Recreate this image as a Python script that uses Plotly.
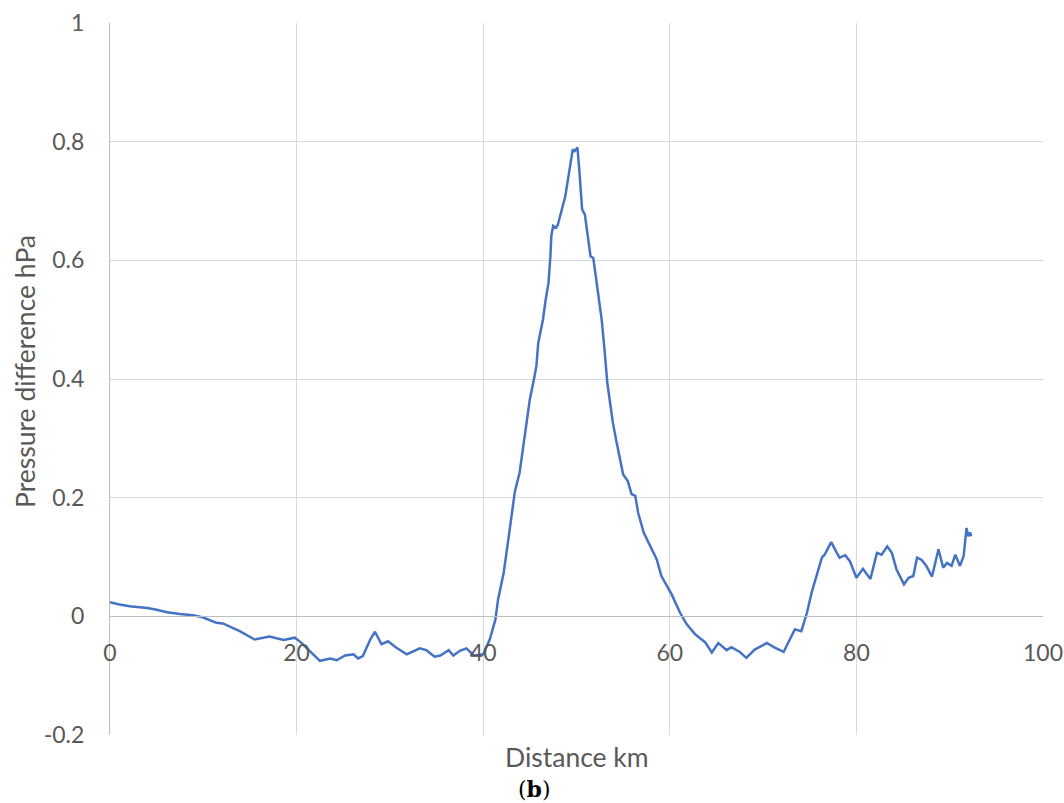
import plotly.graph_objects as go

distance_km = [
    0.0, 1.0, 2.1, 3.0, 4.0, 5.0, 6.1, 7.5, 8.9, 10.0, 11.4, 12.1, 13.0, 13.9, 15.5, 16.4, 17.1, 18.6, 19.8, 20.4,
    21.4, 22.5, 23.6, 24.3, 25.2, 26.1, 26.6, 27.1, 27.9, 28.4, 29.1, 29.8, 30.7, 31.8, 33.2, 33.9, 34.8, 35.4, 36.3, 36.8,
    37.5, 38.2, 39.0, 40.0, 40.7, 41.3, 41.6, 42.2, 42.7, 43.1, 43.4, 43.9, 44.3, 44.6, 45.0, 45.4, 45.7, 45.9, 46.1, 46.4,
    46.7, 47.0, 47.2, 47.3, 47.5, 47.8, 48.0, 48.4, 48.8, 49.0, 49.3, 49.6, 49.8, 50.1, 50.3, 50.6, 50.9, 51.2, 51.5, 51.8,
    52.1, 52.4, 52.7, 53.0, 53.3, 53.6, 53.9, 54.3, 54.6, 55.0, 55.5, 55.9, 56.3, 56.6, 57.2, 58.1, 58.6, 59.1, 59.7, 60.2,
    61.1, 61.8, 62.7, 63.8, 64.5, 65.2, 66.1, 66.6, 67.5, 68.2, 69.1, 70.4, 71.3, 72.2, 72.7, 73.4, 74.1, 74.7, 75.2, 75.7,
    76.3, 76.6, 77.3, 77.9, 78.2, 78.8, 79.3, 80.0, 80.7, 81.5, 82.2, 82.7, 83.3, 83.8, 84.3, 85.1, 85.6, 86.1, 86.5, 87.0,
    87.5, 88.1, 88.8, 89.3, 89.7, 90.2, 90.6, 91.1, 91.5, 91.8, 92.0, 92.2, 92.3,
]
pressure_diff_hpa = [
    0.024, 0.020, 0.017, 0.016, 0.014, 0.011, 0.007, 0.004, 0.002, -0.002, -0.011, -0.012, -0.018, -0.025, -0.039, -0.036, -0.034, -0.040, -0.036, -0.043,
    -0.058, -0.075, -0.071, -0.074, -0.066, -0.064, -0.071, -0.067, -0.039, -0.026, -0.047, -0.042, -0.053, -0.064, -0.054, -0.057, -0.068, -0.066, -0.057, -0.066,
    -0.058, -0.054, -0.066, -0.064, -0.039, -0.006, 0.029, 0.074, 0.130, 0.175, 0.211, 0.242, 0.287, 0.326, 0.366, 0.396, 0.422, 0.461, 0.478, 0.500,
    0.534, 0.562, 0.607, 0.641, 0.658, 0.655, 0.660, 0.686, 0.708, 0.728, 0.759, 0.787, 0.784, 0.790, 0.753, 0.686, 0.677, 0.641, 0.607, 0.604,
    0.568, 0.529, 0.500, 0.450, 0.394, 0.360, 0.326, 0.293, 0.270, 0.239, 0.228, 0.206, 0.203, 0.175, 0.141, 0.111, 0.096, 0.068, 0.051, 0.037,
    0.006, -0.013, -0.030, -0.044, -0.061, -0.045, -0.057, -0.052, -0.060, -0.070, -0.056, -0.045, -0.053, -0.060, -0.044, -0.022, -0.025, 0.006, 0.040, 0.068,
    0.099, 0.104, 0.125, 0.107, 0.099, 0.103, 0.093, 0.065, 0.080, 0.063, 0.107, 0.104, 0.118, 0.107, 0.079, 0.054, 0.065, 0.068, 0.099, 0.095,
    0.085, 0.067, 0.113, 0.082, 0.090, 0.085, 0.104, 0.085, 0.102, 0.149, 0.135, 0.141, 0.135,
]

x_ticks = [0, 20, 40, 60, 80, 100]
y_ticks = [-0.2, 0, 0.2, 0.4, 0.6, 0.8, 1]
y_tick_labels = ["-0.2", "0", "0.2", "0.4", "0.6", "0.8", "1"]

FONT = "Lato"
GRAY = "#595959"
GRID = "#d9d9d9"
AXIS = "#bfbfbf"

fig = go.Figure()
fig.add_trace(go.Scatter(
    x=distance_km, y=pressure_diff_hpa, mode="lines",
    line=dict(color="#4472C4", width=2.5), showlegend=False,
))

fig.update_layout(
    width=1064, height=803,
    margin=dict(l=110, r=21, t=23, b=68, autoexpand=False),
    paper_bgcolor="white", plot_bgcolor="white",
    font=dict(family=FONT, color=GRAY, size=22),
    xaxis=dict(
        range=[0, 100], tickvals=x_ticks, ticktext=[str(v) for v in x_ticks],
        showgrid=True, gridcolor=GRID, gridwidth=1, automargin=False,
        zeroline=False, showline=True, linecolor=AXIS, linewidth=1,
        anchor="free", position=1/6, ticks="", ticklabelstandoff=16,
        tickfont=dict(family=FONT, size=23, color=GRAY),
    ),
    yaxis=dict(
        range=[-0.2, 1], tickvals=y_ticks, ticktext=y_tick_labels,
        showgrid=True, gridcolor=GRID, gridwidth=1, automargin=False,
        zeroline=False, showline=True, linecolor=AXIS, linewidth=1,
        ticks="", ticklabelstandoff=20,
        tickfont=dict(family=FONT, size=23, color=GRAY),
    ),
    annotations=[
        dict(text="Distance km", x=0.5005, y=-0.031, xref="paper", yref="paper",
             xanchor="center", yanchor="middle", showarrow=False,
             font=dict(family=FONT, size=26.5, color=GRAY)),
        dict(text="Pressure difference hPa", x=-0.091, y=0.51, xref="paper", yref="paper",
             xanchor="center", yanchor="middle", showarrow=False, textangle=-90,
             font=dict(family=FONT, size=26.5, color=GRAY)),
        dict(text="(<b>b</b>)", x=0.4555, y=-0.0755, xref="paper", yref="paper",
             xanchor="center", yanchor="middle", showarrow=False,
             font=dict(family="DejaVu Serif", size=22, color="black")),
    ],
)

fig.write_html(
    "out.html",
    config={"displayModeBar": False},
    post_script="document.body.style.margin='0';document.body.style.overflow='hidden';",
)
